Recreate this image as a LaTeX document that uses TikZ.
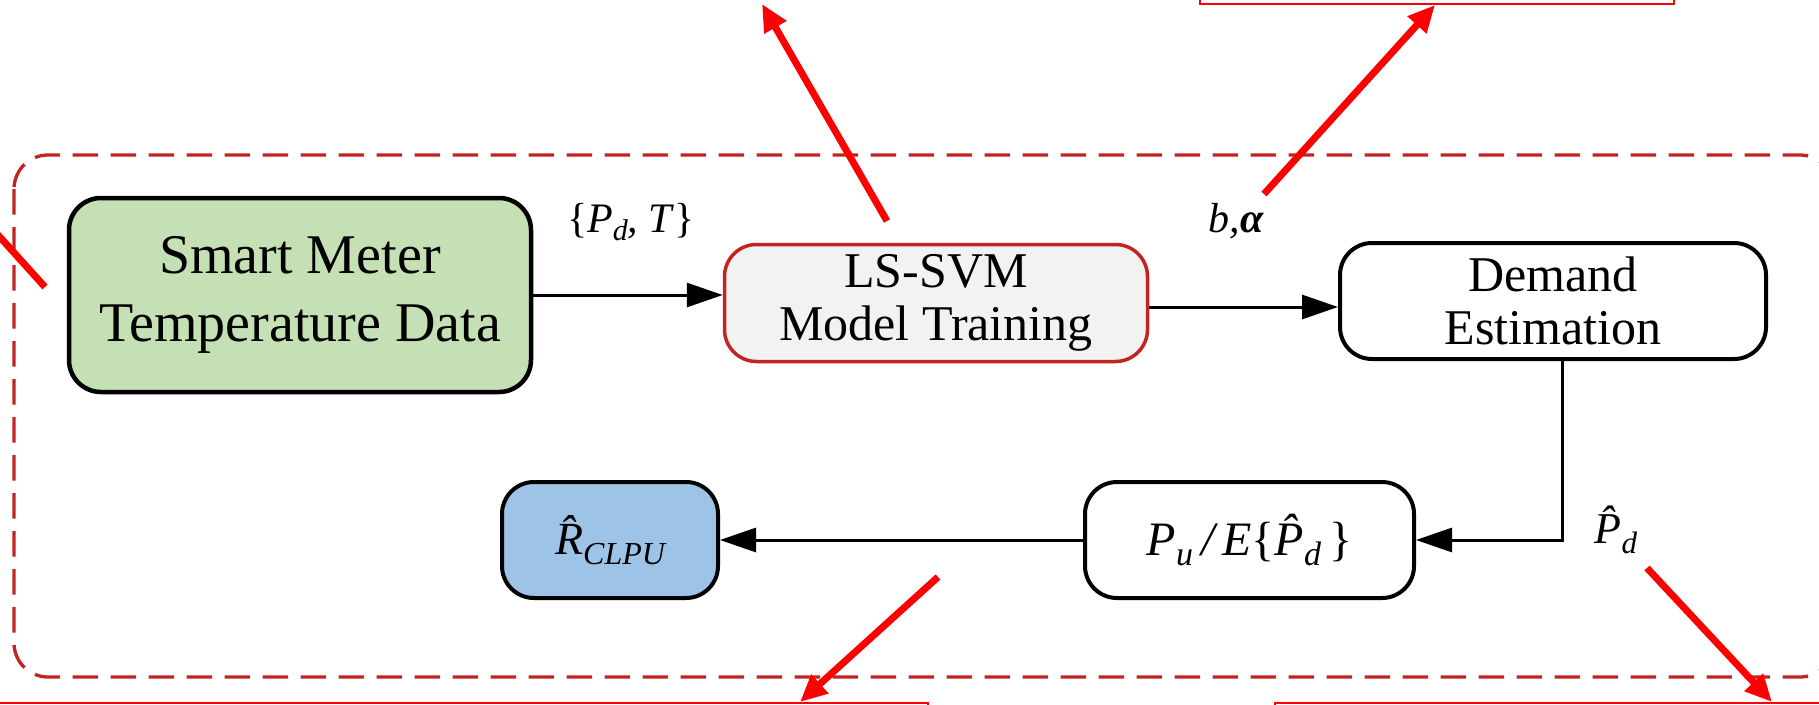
\documentclass[tikz,border=0pt]{standalone}
\usepackage{fontspec}
\setmainfont{Liberation Serif}
\usetikzlibrary{arrows.meta}
\definecolor{boxgreen}{RGB}{197,224,180}
\definecolor{boxblue}{RGB}{157,195,230}
\definecolor{boxgray}{RGB}{242,242,242}
\definecolor{framered}{RGB}{194,36,36}
\definecolor{brightred}{RGB}{255,0,0}
\newcommand{\lowsub}[3]{\raisebox{-#1pt}{\fontsize{#2}{#2}\selectfont #3}}
\begin{document}
\begin{tikzpicture}[x=1pt,y=-1pt,
  stepbox/.style={draw=black, rounded corners=32pt, align=center, fill=white,
    line width=4pt, inner sep=0pt, font=\fontsize{50}{53}\selectfont},
  conn/.style={line width=3pt, -{Triangle[length=36pt,width=24pt]}},
  redarrow/.style={draw=brightred, line width=7pt, -{Triangle[length=27pt,width=24pt]}},
  redbox/.style={draw=brightred, line width=2.6pt},
  dashframe/.style={draw=framered, line width=3.3pt, dash pattern=on 25.5pt off 12.5pt, rounded corners=34pt},
  lbl/.style={inner sep=0pt}
]
\useasboundingbox (0,0) rectangle (1819,704);
\clip (0,0) rectangle (1819,704);

% dashed frame
\draw[dashframe] (14,155) rectangle (1834,677);

% boxes
\node[stepbox, fill=boxgreen, line width=4.5pt, minimum width=462pt, minimum height=194pt,
  font=\fontsize{56}{68}\selectfont] (meter) at (300,295) {Smart Meter\\Temperature Data};
\node[stepbox, fill=boxgray, draw=framered, line width=3.5pt, minimum width=423pt, minimum height=117pt] (svm) at (936,303) {LS-SVM\\Model Training};
\node[stepbox, minimum width=426pt, minimum height=116pt] (demand) at (1553,301) {Demand\\Estimation};
\node[stepbox, minimum width=329pt, minimum height=116pt,
  font=\fontsize{48}{52}\selectfont\itshape] (pu) at (1249.5,540)
  {P\lowsub{10}{34}{u}\,/\,E\textup{\{}\^{P}\lowsub{10}{34}{d}\,\textup{\}}};
\node[stepbox, fill=boxblue, minimum width=216pt, minimum height=116pt,
  font=\fontsize{46}{50}\selectfont\itshape] (rclpu) at (610,540)
  {\^{R}\lowsub{10}{32}{CLPU}};

% connectors
\draw[conn] (meter.east) -- (meter.east -| svm.west);
\draw[conn] ([yshift=-4pt]svm.east) -- ([yshift=-4pt]svm.east -| demand.west);
\draw[conn] ([xshift=9pt]demand.south) |- (pu.east);
\draw[conn] (pu.west) -- (rclpu.east);

% labels
\node[lbl, font=\fontsize{42}{44}\selectfont\itshape] (lpd) at (631,222) {\textup{\{}P\lowsub{8}{30}{d}, T\textup{\}}};
\node[lbl, font=\fontsize{42}{44}\selectfont\itshape] (lba) at (1236,221) {b,{\bfseries α}};
\node[lbl, font=\fontsize{44}{46}\selectfont\itshape] (lhat) at (1616,530) {\^{P}\lowsub{10}{31}{d}};

% red annotation boxes
\draw[redbox] (1200,-60) rectangle (1674,4);
\draw[redbox] (-10,703) rectangle (928,780);
\draw[redbox] (1275,703) rectangle (1840,780);

% red annotation arrows
\coordinate (r1a) at (45,287);  \coordinate (r1b) at (-30,204);
\coordinate (r2a) at (887,221); \coordinate (r2b) at (762,4);
\coordinate (r3a) at (1264,194);\coordinate (r3b) at (1435,5);
\coordinate (r4a) at (938,577); \coordinate (r4b) at (800,702);
\coordinate (r5a) at (1647,568);\coordinate (r5b) at (1772,702);
\draw[redarrow] (r1a) -- (r1b);
\draw[redarrow] (r2a) -- (r2b);
\draw[redarrow] (r3a) -- (r3b);
\draw[redarrow] (r4a) -- (r4b);
\draw[redarrow] (r5a) -- (r5b);
\end{tikzpicture}
\end{document}
